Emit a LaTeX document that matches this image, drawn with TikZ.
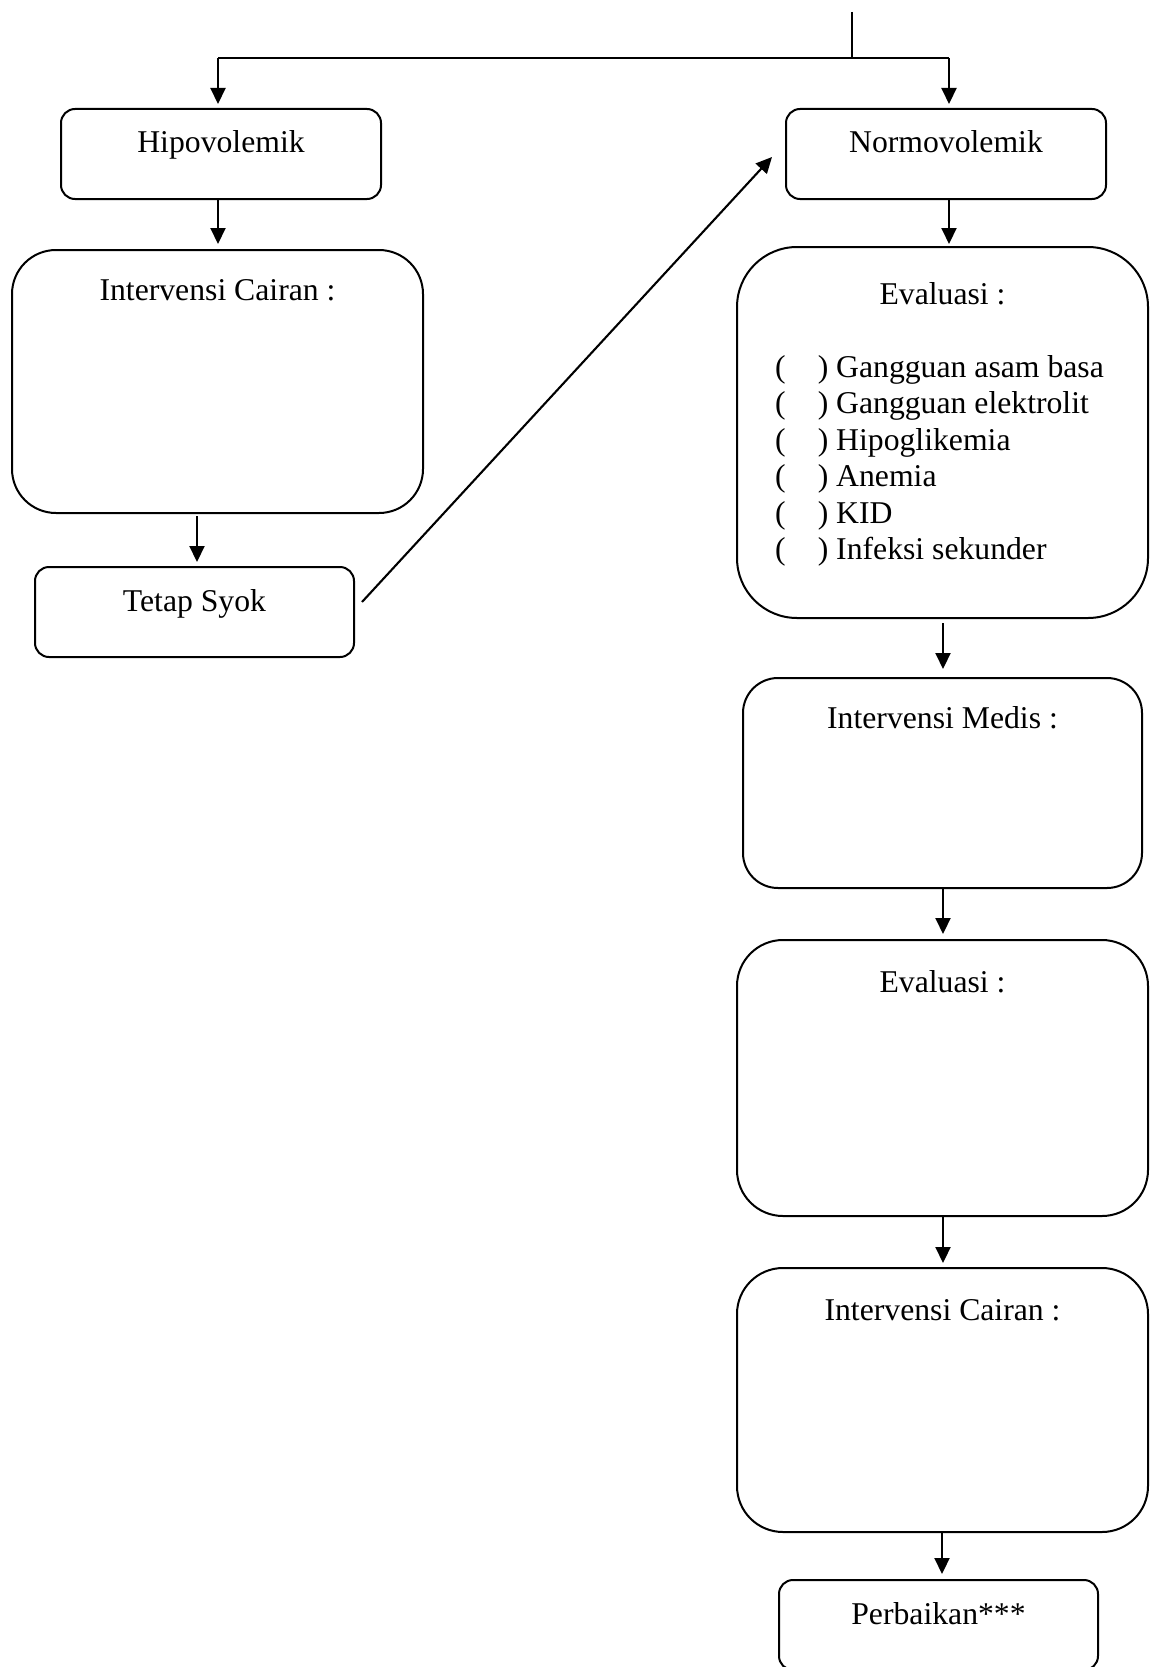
\documentclass[tikz,border=0pt]{standalone}
\usepackage{fontspec}
\setmainfont{Liberation Serif}
\usetikzlibrary{arrows.meta}
\begin{document}
\begin{tikzpicture}[x=1pt,y=1pt,
  txt/.style={font=\fontsize{31.7pt}{36.7pt}\selectfont, inner sep=0pt},
  ttl/.style={txt, anchor=base},
  boxn/.style={draw, line width=2pt, inner sep=0pt, outer sep=0pt},
  arr/.style={line width=2.1pt, -{Triangle[length=16pt,width=15pt]}},
  ln/.style={line width=2.1pt}]
\clip (0,0) rectangle (1158,-1667);
\fill[white] (0,0) rectangle (1158,-1667);
% boxes
\node[boxn, rounded corners=14pt, minimum width=320pt, minimum height=90pt] (hipo) at (221,-154) {};
\node[boxn, rounded corners=14pt, minimum width=320pt, minimum height=90pt] (normo) at (946,-154) {};
\node[boxn, rounded corners=44pt, minimum width=411pt, minimum height=263pt] (ic1) at (217.5,-381.5) {};
\node[boxn, rounded corners=14pt, minimum width=319pt, minimum height=90pt] (tetap) at (194.5,-612) {};
\node[boxn, rounded corners=60pt, minimum width=411pt, minimum height=371pt] (eval1) at (942.5,-432.5) {};
\node[boxn, rounded corners=35pt, minimum width=399pt, minimum height=210pt] (medis) at (942.5,-783) {};
\node[boxn, rounded corners=46pt, minimum width=411pt, minimum height=276pt] (eval2) at (942.5,-1078) {};
\node[boxn, rounded corners=46pt, minimum width=411pt, minimum height=264pt] (ic2) at (942.5,-1400) {};
\node[boxn, rounded corners=14pt, minimum width=319pt, minimum height=90pt] (perb) at (938.5,-1625) {};
% titles
\node[ttl] (thipo) at ([yshift=-44pt]hipo.north) {Hipovolemik};
\node[ttl] (tnormo) at ([yshift=-44pt]normo.north) {Normovolemik};
\node[ttl] (tic1) at ([yshift=-50pt]ic1.north) {Intervensi Cairan :};
\node[ttl] (ttetap) at ([yshift=-44pt]tetap.north) {Tetap Syok};
\node[ttl] (teval1) at ([yshift=-57pt]eval1.north) {Evaluasi :};
\node[ttl] (tmedis) at ([yshift=-50pt]medis.north) {Intervensi Medis :};
\node[ttl] (teval2) at ([yshift=-52pt]eval2.north) {Evaluasi :};
\node[ttl] (tic2) at ([yshift=-52pt]ic2.north) {Intervensi Cairan :};
\node[ttl] (tperb) at ([yshift=-44pt]perb.north) {Perbaikan***};
% checklist
\node[txt, anchor=base west] (l1) at (775,-377) {(\hspace*{32pt}) Gangguan asam basa};
\node[txt, anchor=base west] (l2) at (775,-413.5) {(\hspace*{32pt}) Gangguan elektrolit};
\node[txt, anchor=base west] (l3) at (775,-450) {(\hspace*{32pt}) Hipoglikemia};
\node[txt, anchor=base west] (l4) at (775,-486.5) {(\hspace*{32pt}) Anemia};
\node[txt, anchor=base west] (l5) at (775,-523) {(\hspace*{32pt}) KID};
\node[txt, anchor=base west] (l6) at (775,-559.5) {(\hspace*{32pt}) Infeksi sekunder};
% top connector
\coordinate (top) at (852,-12);
\coordinate (jn) at (852,-58);
\coordinate (hl) at (218,-58);
\coordinate (hr) at (949,-58);
\draw[line width=1.6pt] (top) -- (jn);
\draw[ln] (hl) -- (hr);
\draw[arr, shorten >=5pt] (hl) -- (hl |- hipo.north);
\draw[arr, shorten >=5pt] (hr) -- (hr |- normo.north);
% left chain
\draw[arr, shorten >=6pt] ([xshift=-3pt]hipo.south) -- ([xshift=-3pt]hipo.south |- ic1.north);
\draw[arr, shorten <=3pt, shorten >=5pt] ([xshift=-20.5pt]ic1.south) -- ([xshift=-20.5pt]ic1.south |- tetap.north);
% diagonal
\draw[arr] ([shift={(8pt,10pt)}]tetap.east) -- ([shift={(-14pt,-3pt)}]normo.west);
% right chain
\draw[arr, shorten >=3pt] ([xshift=3pt]normo.south) -- ([xshift=3pt]normo.south |- eval1.north);
\draw[arr, shorten <=5pt, shorten >=9pt] ([xshift=0.5pt]eval1.south) -- ([xshift=0.5pt]eval1.south |- medis.north);
\draw[arr, shorten >=6pt] ([xshift=0.5pt]medis.south) -- ([xshift=0.5pt]medis.south |- eval2.north);
\draw[arr, shorten >=5pt] ([xshift=0.5pt]eval2.south) -- ([xshift=0.5pt]eval2.south |- ic2.north);
\draw[arr, shorten >=6pt] ([xshift=-0.5pt]ic2.south) -- ([xshift=-0.5pt]ic2.south |- perb.north);
\end{tikzpicture}
\end{document}
